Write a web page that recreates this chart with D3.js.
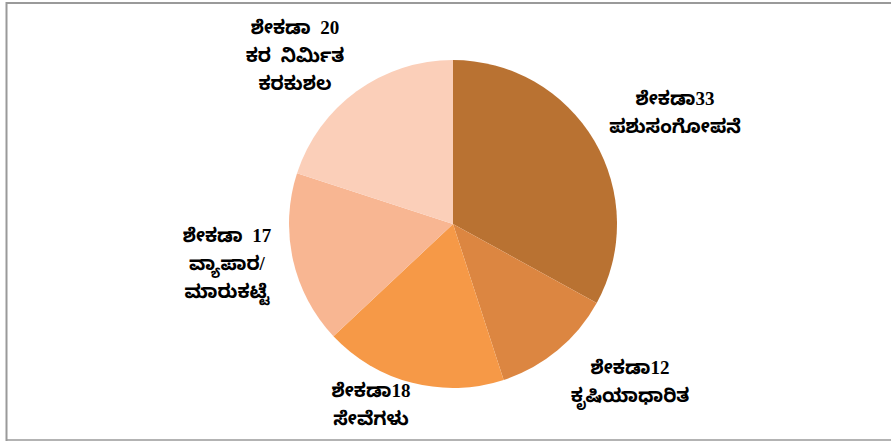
<!DOCTYPE html>
<html>
<head>
<meta charset="utf-8">
<script src="https://cdn.jsdelivr.net/npm/d3@7/dist/d3.min.js"></script>
<style>
html, body { margin: 0; padding: 0; background: #fff; }
svg { display: block; }
</style>
</head>
<body>
<svg id="chart" width="891" height="445"></svg>
<script>
const categories = ["ಪಶುಸಂಗೋಪನೆ", "ಕೃಷಿಯಾಧಾರಿತ", "ಸೇವೆಗಳು", "ವ್ಯಾಪಾರ/ ಮಾರುಕಟ್ಟೆ", "ಕರ ನಿರ್ಮಿತ ಕರಕುಶಲ"];
const values = [33, 12, 18, 17, 20];
const labelLines = [
  ["ಶೇಕಡಾ33", "ಪಶುಸಂಗೋಪನೆ"],
  ["ಶೇಕಡಾ12", "ಕೃಷಿಯಾಧಾರಿತ"],
  ["ಶೇಕಡಾ18", "ಸೇವೆಗಳು"],
  ["ಶೇಕಡಾ 17", "ವ್ಯಾಪಾರ/", "ಮಾರುಕಟ್ಟೆ"],
  ["ಶೇಕಡಾ 20", "ಕರ ನಿರ್ಮಿತ", "ಕರಕುಶಲ"]
];
const colors = ["#B97232", "#DC8641", "#F69947", "#F8B692", "#FBCFB9"];
// label anchor positions (centre x, first-line y) chosen to match layout
const labelPos = [[675, 101], [630, 370], [371, 393], [227, 238], [295, 30]];

const svg = d3.select("#chart");
const W = 891, H = 445;

// frame
svg.append("line").attr("x1", 6).attr("x2", W).attr("y1", 3).attr("y2", 3)
  .attr("stroke", "#9a9a9a").attr("stroke-width", 2);
svg.append("line").attr("x1", 6.5).attr("x2", 6.5).attr("y1", 2).attr("y2", 441)
  .attr("stroke", "#9a9a9a").attr("stroke-width", 2);
svg.append("line").attr("x1", 6).attr("x2", W).attr("y1", 440).attr("y2", 440)
  .attr("stroke", "#9a9a9a").attr("stroke-width", 1.5);

const cx = 453, cy = 224, r = 164;
const pie = d3.pie().sort(null).value(d => d);
const arc = d3.arc().innerRadius(0).outerRadius(r);
const g = svg.append("g").attr("transform", `translate(${cx},${cy})`);
g.selectAll("path").data(pie(values)).join("path")
  .attr("d", arc)
  .attr("fill", (d, i) => colors[i]);

const lineH = 28;
const lg = svg.append("g")
  .attr("font-family", "'Liberation Serif', 'Noto Sans Kannada', 'Tunga', serif")
  .attr("font-weight", "bold")
  .attr("font-size", 19)
  .attr("word-spacing", 5)
  .attr("fill", "#000")
  .attr("text-anchor", "middle");
labelLines.forEach((lines, i) => {
  const t = lg.append("text")
    .attr("x", labelPos[i][0])
    .attr("y", labelPos[i][1])
    .attr("dominant-baseline", "middle");
  lines.forEach((s, j) => {
    t.append("tspan").attr("x", labelPos[i][0]).attr("y", labelPos[i][1] + j * lineH).text(s);
  });
});
</script>
</body>
</html>
